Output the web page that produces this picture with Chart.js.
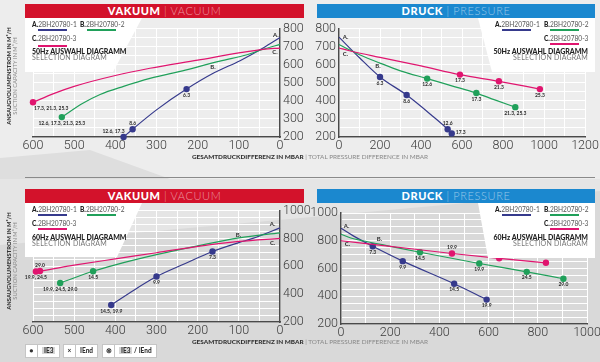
<!DOCTYPE html>
<html>
<head>
<meta charset="utf-8">
<script src="https://cdn.jsdelivr.net/npm/chart.js@4.4.1/dist/chart.umd.min.js"></script>
<style>
body { margin: 0; width: 600px; height: 362px; overflow: hidden; position: relative; background: #ebebeb; font-family: Lato, "Open Sans", sans-serif; }
.abs { position: absolute; }
canvas { position: absolute; }
.bar { position: absolute; height: 14px; line-height: 14px; text-align: center; color: #fff; font-size: 11px; letter-spacing: .6px; }
.bar b { font-weight: 900; }
.bar span { color: rgba(255,255,255,.55); font-weight: 300; }
.red { background: #d3122b; }
.blue { background: #1b88cf; }
.lgbox { position: absolute; background: #fff; }
.lt { position: absolute; font-size: 6.6px; color: #555; white-space: nowrap; line-height: 7px; }
.lt b { color: #222; font-weight: 900; }
.ln { position: absolute; height: 1.7px; }
.lh { position: absolute; font-size: 7px; font-weight: 900; color: #222; white-space: nowrap; line-height: 7px; }
.ls { position: absolute; font-size: 7px; color: #777; white-space: nowrap; line-height: 7px; letter-spacing: .2px; }
.ytitle { position: absolute; width: 120px; text-align: center; font-size: 5.8px; line-height: 6px; white-space: nowrap; transform: rotate(-90deg); }
.ytitle b { display: block; color: #333; font-weight: 900; }
.ytitle span { display: block; color: #888; }
.xtitle { position: absolute; width: 300px; text-align: center; font-size: 6.4px; color: #888; white-space: nowrap; }
.xtitle b { color: #333; font-weight: 900; }
.key { position: absolute; top: 344px; height: 12px; line-height: 12px; background: #fff; border: 1px solid #c5c5c5; font-size: 6.5px; font-weight: 900; color: #333; display: flex; }
.key .s { width: 11px; text-align: center; border-right: 1px solid #c5c5c5; }
.key .t { padding: 0 4px; }
.key .g { background: #d6d6d6; padding: 0 2px; }
</style>
</head>
<body>
<!-- background shapes -->
<div class="abs" style="left:0;top:0;width:600px;height:179px;background:#ededed"></div>
<div class="abs" style="left:0;top:150px;width:170px;height:29px;background:#dedede;clip-path:polygon(0 8px,90px 0,170px 29px,0 29px)"></div>
<div class="abs" style="left:0;top:179px;width:600px;height:183px;background:#d9d9d9"></div>
<div class="abs" style="left:0;top:179px;width:600px;height:66px;background:#e5e5e5;clip-path:polygon(0 0,600px 0,600px 12px,0 66px)"></div>
<div class="abs" style="left:25px;top:177px;width:570px;height:1px;background:#8a8a8a"></div>

<div class="bar red" style="left:25px;top:4px;width:279px"><b>VAKUUM</b> <span>| VACUUM</span></div>
<div class="bar blue" style="left:317px;top:4px;width:278px"><b>DRUCK</b> <span>| PRESSURE</span></div>
<div class="bar red" style="left:25px;top:189px;width:279px"><b>VAKUUM</b> <span>| VACUUM</span></div>
<div class="bar blue" style="left:317px;top:189px;width:278px"><b>DRUCK</b> <span>| PRESSURE</span></div>

<canvas id="c1" width="310" height="140" style="left:0;top:18px;width:310px;height:140px"></canvas>
<canvas id="c2" width="296" height="140" style="left:305px;top:18px;width:296px;height:140px"></canvas>
<canvas id="c3" width="310" height="143" style="left:0;top:200px;width:310px;height:143px"></canvas>
<canvas id="c4" width="300" height="145" style="left:305px;top:200px;width:300px;height:145px"></canvas>

<!-- legend top-left -->
<div class="lgbox" style="left:25px;top:18px;width:117px;height:54px;clip-path:polygon(0 0,117px 0,88px 54px,0 54px)"></div>
<div class="lt" style="left:32px;top:21px"><b>A.</b>2BH20780-1</div>
<div class="ln" style="left:38px;top:29px;width:29px;background:#363a8c"></div>
<div class="lt" style="left:80px;top:21px"><b>B.</b>2BH20780-2</div>
<div class="ln" style="left:87px;top:29px;width:29px;background:#20a05a"></div>
<div class="lt" style="left:32px;top:35px"><b>C.</b>2BH20780-3</div>
<div class="ln" style="left:38px;top:45px;width:29px;background:#e0156f"></div>
<div class="lh" style="left:32px;top:48px">50Hz AUSWAHL DIAGRAMM</div>
<div class="ls" style="left:32px;top:54px">SELECTION DIAGRAM</div>

<!-- legend top-right -->
<div class="lgbox" style="left:478px;top:18px;width:117px;height:54px;clip-path:polygon(0 0,117px 0,117px 54px,14px 54px)"></div>
<div class="lt" style="left:495px;top:21px"><b>A.</b>2BH20780-1</div>
<div class="ln" style="left:502px;top:29px;width:29px;background:#363a8c"></div>
<div class="lt" style="left:544px;top:21px"><b>B.</b>2BH20780-2</div>
<div class="ln" style="left:550px;top:29px;width:29px;background:#20a05a"></div>
<div class="lt" style="left:544px;top:35px"><b>C.</b>2BH20780-3</div>
<div class="ln" style="left:550px;top:43px;width:29px;background:#e0156f"></div>
<div class="lh" style="right:12px;top:48px">50Hz AUSWAHL DIAGRAMM</div>
<div class="ls" style="right:12px;top:54px">SELECTION DIAGRAM</div>

<!-- legend bottom-left -->
<div class="lgbox" style="left:25px;top:203px;width:117px;height:54px;clip-path:polygon(0 0,117px 0,92px 54px,0 54px)"></div>
<div class="lt" style="left:32px;top:206px"><b>A.</b>2BH20780-1</div>
<div class="ln" style="left:38px;top:214px;width:29px;background:#363a8c"></div>
<div class="lt" style="left:80px;top:206px"><b>B.</b>2BH20780-2</div>
<div class="ln" style="left:87px;top:214px;width:29px;background:#20a05a"></div>
<div class="lt" style="left:32px;top:220px"><b>C.</b>2BH20780-3</div>
<div class="ln" style="left:38px;top:228px;width:29px;background:#e0156f"></div>
<div class="lh" style="left:32px;top:234px">60Hz AUSWAHL DIAGRAMM</div>
<div class="ls" style="left:32px;top:240px">SELECTION DIAGRAM</div>

<!-- legend bottom-right -->
<div class="lgbox" style="left:478px;top:203px;width:117px;height:55px;clip-path:polygon(0 0,117px 0,117px 55px,10px 55px)"></div>
<div class="lt" style="left:495px;top:206px"><b>A.</b>2BH20780-1</div>
<div class="ln" style="left:502px;top:214px;width:29px;background:#363a8c"></div>
<div class="lt" style="left:544px;top:206px"><b>B.</b>2BH20780-2</div>
<div class="ln" style="left:550px;top:214px;width:29px;background:#20a05a"></div>
<div class="lt" style="left:544px;top:220px"><b>C.</b>2BH20780-3</div>
<div class="ln" style="left:550px;top:228px;width:29px;background:#e0156f"></div>
<div class="lh" style="right:12px;top:234px">60Hz AUSWAHL DIAGRAMM</div>
<div class="ls" style="right:12px;top:240px">SELECTION DIAGRAM</div>

<!-- axis titles -->
<div class="ytitle" style="left:-48px;top:70px"><b>ANSAUGVOLUMENSTROM IN M³/H</b><span>SUCTION CAPACITY IN M³/H</span></div>
<div class="ytitle" style="left:-48px;top:255px"><b>ANSAUGVOLUMENSTROM IN M³/H</b><span>SUCTION CAPACITY IN M³/H</span></div>
<div class="xtitle" style="left:160px;top:153px"><b>GESAMTDRUCKDIFFERENZ IN MBAR</b> | TOTAL PRESSURE DIFFERENCE IN MBAR</div>
<div class="xtitle" style="left:160px;top:338px"><b>GESAMTDRUCKDIFFERENZ IN MBAR</b> | TOTAL PRESSURE DIFFERENCE IN MBAR</div>

<!-- motor key -->
<div class="key" style="left:25px"><span class="s">●</span><span class="t"><span class="g">IE3</span></span></div>
<div class="key" style="left:63px"><span class="s">×</span><span class="t">IEnd</span></div>
<div class="key" style="left:102px"><span class="s">⊗</span><span class="t"><span class="g">IE3</span> / IEnd</span></div>

<script>
// series colours
const colA = '#363a8c', colB = '#20a05a', colC = '#e0156f';

// 50 Hz vacuum: [pressure difference mbar, flow m3/h]
const v50A_line = [[380,200],[358,243],[300,350],[227,465],[160,555],[97,622],[41,692],[0,750]];
const v50A_pts = [[380,200],[358,243],[227,465]];
const v50A_lbl = ['12.6, 17.3','8.6','6.3'];
const v50B_line = [[530,310],[480,385],[437,435],[380,480],[316,524],[230,570],[146,620],[80,655],[41,685],[0,712]];
const v50B_pts = [[530,310]];
const v50B_lbl = ['12.6, 17.3, 21.3, 25.3'];
const v50C_line = [[600,392],[550,440],[500,480],[400,540],[316,580],[200,625],[100,665],[41,685],[0,692]];
const v50C_pts = [[600,392]];
const v50C_lbl = ['17.3, 21.3, 25.3'];

// 50 Hz pressure
const p50A_line = [[0,752],[100,638],[200,532],[330,432],[450,322],[530,243],[550,219]];
const p50A_pts = [[200,532],[330,432],[530,243],[550,219]];
const p50A_lbl = ['6.3','8.6','12.6','17.3'];
const p50B_line = [[0,712],[50,682],[100,655],[197,610],[300,566],[430,523],[550,483],[670,443],[760,405],[860,365]];
const p50B_pts = [[430,523],[670,443],[860,365]];
const p50B_lbl = ['12.6','17.3','21.3, 25.3'];
const p50C_line = [[0,692],[50,677],[200,640],[400,593],[590,545],[780,508],[980,465]];
const p50C_pts = [[590,545],[780,508],[980,465]];
const p50C_lbl = ['17.3','21.3','25.3'];

// 60 Hz vacuum
const v60A_line = [[410,322],[355,428],[300,526],[230,620],[164,706],[100,770],[66,800],[0,875]];
const v60A_pts = [[410,322],[300,526],[164,706]];
const v60A_lbl = ['14.5, 19.9','9.9','7.3'];
const v60B_line = [[534,480],[454,564],[400,610],[300,683],[194,750],[100,803],[0,840]];
const v60B_pts = [[534,480],[454,564]];
const v60B_lbl = ['19.9, 24.5, 29.0','14.5'];
const v60C_line = [[593,562],[583,566],[500,608],[400,653],[300,697],[194,745],[100,778],[0,800]];
const v60C_pts = [[593,562],[583,566]];
const v60C_lbl = ['19.9, 24.5','29.0'];

// 60 Hz pressure
const p60A_line = [[0,890],[50,835],[129,760],[251,653],[460,490],[592,376]];
const p60A_pts = [[129,760],[251,653],[460,490],[592,376]];
const p60A_lbl = ['7.3','9.9','14.5','19.9'];
const p60B_line = [[0,847],[40,820],[89,800],[200,760],[321,717],[562,636],[755,576],[904,526]];
const p60B_pts = [[321,717],[562,636],[755,576],[904,526]];
const p60B_lbl = ['14.5','19.9','24.5','29.0'];
const p60C_line = [[0,800],[200,760],[451,708],[643,673],[833,641]];
const p60C_pts = [[451,708],[643,673],[833,641]];
const p60C_lbl = ['19.9','24.5','29.0'];

// labels drawn next to the markers and the A./B./C. curve tags
const pointLabels = {
    id: 'pointLabels',
    afterDatasetsDraw(chart, args, opts) {
        const ctx = chart.ctx;
        ctx.save();
        ctx.fillStyle = '#2a2a2a';
        ctx.font = 'bold 5px Lato';
        ctx.textBaseline = 'middle';
        chart.data.datasets.forEach((ds, i) => {
            if (!ds.labels) return;
            chart.getDatasetMeta(i).data.forEach((pt, j) => {
                const p = (ds.labelPos && ds.labelPos[j]) || 'b';
                let x = pt.x, y = pt.y + 6;
                ctx.textAlign = 'center';
                if (p == 't') y = pt.y - 6;
                if (p == 'tl') { y = pt.y - 6; x = pt.x + 1; ctx.textAlign = 'right'; }
                if (p == 'br') { x = pt.x + 1; ctx.textAlign = 'left'; }
                if (p == 'r') { y = pt.y - 1; x = pt.x + 4; ctx.textAlign = 'left'; }
                ctx.fillText(ds.labels[j], x, y);
            });
        });
        ctx.font = 'bold 6px Lato';
        ctx.textAlign = 'center';
        (opts.tags || []).forEach(t => {
            ctx.fillText(t[0], chart.scales.x.getPixelForValue(t[1]), chart.scales.y.getPixelForValue(t[2]));
        });
        ctx.restore();
    }
};

function curve(pts, color) {
    return {
        type: 'line', showLine: true, data: pts.map(p => ({ x: p[0], y: p[1] })),
        borderColor: color, borderWidth: 1.2, pointRadius: 0, fill: false,
        cubicInterpolationMode: 'monotone', clip: false
    };
}
function marks(pts, lbl, color, pos) {
    return {
        type: 'scatter', data: pts.map(p => ({ x: p[0], y: p[1] })), labels: lbl, labelPos: pos,
        backgroundColor: color, borderWidth: 0, pointRadius: 3.2, clip: false
    };
}

function makeChart(id, o) {
    const tickFont = { family: 'Roboto', size: 12.5, weight: '300' };
    return new Chart(document.getElementById(id), {
        type: 'scatter',
        data: { datasets: o.datasets },
        options: {
            responsive: false, animation: false,
            layout: { padding: o.padding },
            plugins: { legend: { display: false }, tooltip: { enabled: false }, pointLabels: { tags: o.tags } },
            scales: {
                x: {
                    type: 'linear', min: o.xMin, max: o.xMax, reverse: o.reverse,
                    ticks: { stepSize: o.xStep, autoSkip: false, maxRotation: 0, padding: 1, color: '#3a3a3a', font: tickFont,
                        callback: v => v % o.xLbl === 0 ? v : '' },
                    grid: { color: '#fff', lineWidth: 1, drawTicks: false },
                    border: { color: '#4a4a4a', width: 1.5 },
                    afterFit: s => { s.height = 21; }
                },
                y: {
                    position: o.yPos, min: o.yMin, max: o.yMax,
                    ticks: { stepSize: 50, autoSkip: false, padding: 3, color: '#3a3a3a', font: tickFont,
                        callback: v => v % o.yLbl === 0 ? v : '' },
                    grid: { color: '#fff', lineWidth: 1, drawTicks: false },
                    border: { color: '#4a4a4a', width: 1.5 },
                    afterFit: s => { s.width = o.yW; }
                }
            }
        },
        plugins: [pointLabels]
    });
}

makeChart('c1', {
    xMin: 0, xMax: 600, reverse: true, xStep: 50, xLbl: 100, yMin: 200, yMax: 800, yLbl: 100,
    yPos: 'right', yW: 30, padding: { left: 33, top: 9, right: 0, bottom: 0 },
    tags: [['A.', 10, 762], ['B.', 163, 587], ['C.', 12, 669]],
    datasets: [
        curve(v50C_line, colC), curve(v50B_line, colB), curve(v50A_line, colA),
        marks(v50C_pts, v50C_lbl, colC, ['br']), marks(v50B_pts, v50B_lbl, colB, ['b']),
        marks(v50A_pts, v50A_lbl, colA, ['tl', 't', 'b'])
    ]
});
makeChart('c2', {
    xMin: 0, xMax: 1200, reverse: false, xStep: 100, xLbl: 200, yMin: 200, yMax: 800, yLbl: 100,
    yPos: 'left', yW: 34, padding: { left: 0, top: 9, right: 16, bottom: 0 },
    tags: [['A.', 32, 752], ['B.', 190, 592], ['C.', 32, 656]],
    datasets: [
        curve(p50C_line, colC), curve(p50B_line, colB), curve(p50A_line, colA),
        marks(p50C_pts, p50C_lbl, colC), marks(p50B_pts, p50B_lbl, colB),
        marks(p50A_pts, p50A_lbl, colA, ['b', 'b', 't', 'r'])
    ]
});
makeChart('c3', {
    xMin: 0, xMax: 600, reverse: true, xStep: 50, xLbl: 100, yMin: 200, yMax: 1000, yLbl: 200,
    yPos: 'right', yW: 30, padding: { left: 33, top: 10, right: 0, bottom: 0 },
    tags: [['A.', 18, 904], ['B.', 101, 821], ['C.', 18, 768]],
    datasets: [
        curve(v60C_line, colC), curve(v60B_line, colB), curve(v60A_line, colA),
        marks(v60C_pts, v60C_lbl, colC, ['b', 't']), marks(v60B_pts, v60B_lbl, colB),
        marks(v60A_pts, v60A_lbl, colA)
    ]
});
makeChart('c4', {
    xMin: 0, xMax: 1000, reverse: false, xStep: 100, xLbl: 200, yMin: 200, yMax: 1000, yLbl: 200,
    yPos: 'left', yW: 36, padding: { left: 0, top: 13, right: 18, bottom: 0 },
    tags: [['A.', 23, 909], ['B.', 156, 812], ['C.', 26, 775]],
    datasets: [
        curve(p60C_line, colC), curve(p60B_line, colB), curve(p60A_line, colA),
        marks(p60C_pts, p60C_lbl, colC, ['t', 't', 't']), marks(p60B_pts, p60B_lbl, colB),
        marks(p60A_pts, p60A_lbl, colA)
    ]
});
</script>
</body>
</html>
